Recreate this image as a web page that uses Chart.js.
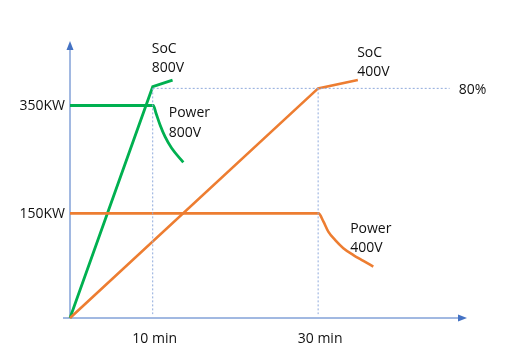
<!DOCTYPE html>
<html><head><meta charset="utf-8">
<script src="https://cdn.jsdelivr.net/npm/chart.js@4/dist/chart.umd.min.js"></script>
<style>html,body{margin:0;padding:0;background:#fff}#wrap{width:516px;height:363px}</style>
</head><body><div id="wrap"><canvas id="c" width="516" height="363"></canvas></div>
<script>
// time in minutes (x), schematic level units 0-100 (y)
const soc800X = [0, 10, 12.4];
const soc800Y = [0, 83.8, 86.2];
const power800X = [0, 10.07, 10.4, 10.88, 11.49, 12.3, 13.7];
const power800Y = [77, 77, 74.2, 70.0, 65.7, 61.5, 56.4];
const soc400X = [0, 30, 34.8];
const soc400Y = [0, 83.2, 86.2];
const power400X = [0, 30.05, 30.63, 31.23, 32.04, 33.05, 34.26, 35.47, 36.67];
const power400Y = [37.9, 37.9, 35.0, 31.3, 28.3, 25.3, 22.8, 20.7, 18.6];
const xTickValues = [10, 30];
const xTickLabels = ['10 min', '30 min'];
const yTickValues = [37.9, 77];
const yTickLabels = ['150KW', '350KW'];
const level80 = 83.2;
const level80Label = '80%';
const refLineEndX = 45.9;

const pts = (xs, ys) => xs.map((x, i) => ({x, y: ys[i]}));
const GREEN = '#00B050', ORANGE = '#ED7D31', AXIS = '#4472C4', DOT = '#8FAADC';
const dotted = (data) => ({data, borderColor: DOT, borderWidth: 1, borderDash: [2, 2], pointRadius: 0, tension: 0, fill: false});

const FONT = '14px "Open Sans"';
const overlay = {
  id: 'overlay',
  beforeDatasetsDraw(chart) {
    const {ctx, chartArea: a} = chart;
    ctx.save();
    ctx.strokeStyle = AXIS; ctx.fillStyle = AXIS; ctx.lineWidth = 1;
    ctx.beginPath(); ctx.moveTo(a.left, a.bottom); ctx.lineTo(a.left, a.top + 4); ctx.stroke();
    ctx.beginPath(); ctx.moveTo(a.left, a.top - 1); ctx.lineTo(a.left - 3.5, a.top + 8); ctx.lineTo(a.left + 3.5, a.top + 8); ctx.closePath(); ctx.fill();
    ctx.beginPath(); ctx.moveTo(a.left - 7, a.bottom); ctx.lineTo(a.right - 6, a.bottom); ctx.stroke();
    ctx.beginPath(); ctx.moveTo(a.right, a.bottom); ctx.lineTo(a.right - 9, a.bottom - 3.5); ctx.lineTo(a.right - 9, a.bottom + 3.5); ctx.closePath(); ctx.fill();
    ctx.restore();
  },
  afterDatasetsDraw(chart) {
    const {ctx, scales: {x, y}, chartArea: a} = chart;
    ctx.save();
    ctx.font = FONT; ctx.fillStyle = '#111'; ctx.textBaseline = 'alphabetic';
    ctx.textAlign = 'right';
    yTickValues.forEach((v, i) => ctx.fillText(yTickLabels[i], a.left - 5, y.getPixelForValue(v) + 5));
    ctx.textAlign = 'center';
    xTickValues.forEach((v, i) => ctx.fillText(xTickLabels[i], x.getPixelForValue(v) + 2, a.bottom + 25));
    ctx.textAlign = 'left';
    const p8 = x.getPixelForValue(soc800X[1]);
    ctx.fillText('SoC', p8 - 1, 53); ctx.fillText('800V', p8 - 1, 72);
    ctx.fillText('Power', p8 + 16, 117); ctx.fillText('800V', p8 + 16, 137);
    const p4 = x.getPixelForValue(soc400X[1]);
    ctx.fillText('SoC', p4 + 39, 57); ctx.fillText('400V', p4 + 39, 76);
    ctx.fillText('Power', p4 + 32, 233); ctx.fillText('400V', p4 + 32, 252);
    ctx.fillText(level80Label, x.getPixelForValue(refLineEndX) + 9, y.getPixelForValue(level80) + 6);
    ctx.restore();
  }
};

new Chart(document.getElementById('c'), {
  type: 'scatter',
  data: {
    datasets: [
      dotted([{x: soc800X[1], y: level80}, {x: refLineEndX, y: level80}]),
      dotted([{x: soc800X[1], y: level80}, {x: soc800X[1], y: 1.4}]),
      dotted([{x: soc400X[1], y: level80}, {x: soc400X[1], y: 1.4}]),
      {label: 'Power 400V', data: pts(power400X, power400Y), showLine: true, borderColor: ORANGE, borderWidth: 2.6, pointRadius: 0, cubicInterpolationMode: 'monotone'},
      {label: 'SoC 400V', data: pts(soc400X, soc400Y), showLine: true, borderColor: ORANGE, borderWidth: 2.6, pointRadius: 0, tension: 0},
      {label: 'Power 800V', data: pts(power800X, power800Y), showLine: true, borderColor: GREEN, borderWidth: 2.8, pointRadius: 0, cubicInterpolationMode: 'monotone'},
      {label: 'SoC 800V', data: pts(soc800X, soc800Y), showLine: true, borderColor: GREEN, borderWidth: 2.8, pointRadius: 0, tension: 0}
    ].map(d => Object.assign({showLine: true, clip: false}, d))
  },
  options: {
    responsive: false, animation: false, devicePixelRatio: 1,
    layout: {padding: {left: 70, right: 49, top: 42, bottom: 45}},
    plugins: {legend: {display: false}, tooltip: {enabled: false}},
    scales: {
      x: {type: 'linear', min: 0, max: 48, display: false},
      y: {type: 'linear', min: 0, max: 100, display: false}
    }
  },
  plugins: [overlay]
});
</script></body></html>
